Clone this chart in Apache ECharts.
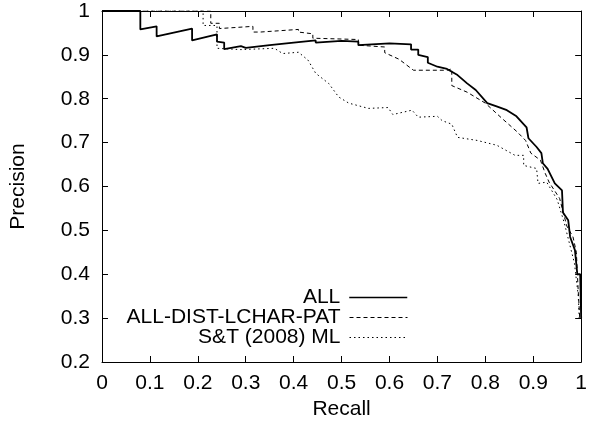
<!DOCTYPE html>
<html>
<head>
<meta charset="utf-8">
<script src="https://cdn.jsdelivr.net/npm/echarts@6/dist/echarts.min.js"></script>
<style>
  html, body { margin: 0; padding: 0; background: #fff; }
  #chart { width: 590px; height: 426px; }
</style>
</head>
<body>
<div id="chart"></div>
<script>
const seriesNames = ["ALL", "ALL-DIST-LCHAR-PAT", "S&T (2008) ML"];

// precision/recall curves
const allRecall = [0, 0.08, 0.08, 0.114, 0.114, 0.188, 0.188, 0.24, 0.24, 0.255, 0.255, 0.29, 0.3, 0.304, 0.35, 0.4, 0.446, 0.446, 0.5, 0.535, 0.535, 0.6, 0.645, 0.645, 0.66, 0.66, 0.68, 0.68, 0.7, 0.72, 0.742, 0.762, 0.78, 0.804, 0.825, 0.845, 0.865, 0.886, 0.89, 0.907, 0.917, 0.92, 0.93, 0.945, 0.96, 0.962, 0.973, 0.977, 0.987, 0.992, 0.998, 1.0];
const allPrecision = [1, 1, 0.958, 0.965, 0.942, 0.96, 0.933, 0.947, 0.93, 0.928, 0.913, 0.92, 0.916, 0.92, 0.922, 0.928, 0.933, 0.928, 0.932, 0.93, 0.922, 0.926, 0.924, 0.912, 0.912, 0.9, 0.895, 0.882, 0.873, 0.868, 0.854, 0.835, 0.82, 0.79, 0.782, 0.774, 0.76, 0.735, 0.71, 0.69, 0.676, 0.653, 0.64, 0.607, 0.591, 0.541, 0.523, 0.485, 0.455, 0.4, 0.4, 0.3];

const distRecall = [0, 0.227, 0.227, 0.245, 0.245, 0.315, 0.315, 0.33, 0.41, 0.41, 0.44, 0.44, 0.535, 0.535, 0.59, 0.59, 0.62, 0.65, 0.72, 0.73, 0.73, 0.762, 0.8, 0.835, 0.866, 0.884, 0.895, 0.915, 0.925, 0.933, 0.955, 0.97, 0.983, 0.99, 0.993, 0.997];
const distPrecision = [1, 1, 0.972, 0.972, 0.96, 0.965, 0.952, 0.952, 0.958, 0.952, 0.948, 0.938, 0.935, 0.922, 0.918, 0.905, 0.89, 0.865, 0.865, 0.868, 0.83, 0.815, 0.79, 0.755, 0.725, 0.705, 0.676, 0.66, 0.63, 0.61, 0.573, 0.51, 0.485, 0.45, 0.38, 0.3];

const stRecall = [0, 0.211, 0.211, 0.24, 0.24, 0.29, 0.36, 0.377, 0.41, 0.43, 0.446, 0.473, 0.494, 0.515, 0.556, 0.597, 0.607, 0.647, 0.66, 0.7, 0.71, 0.73, 0.742, 0.783, 0.824, 0.862, 0.88, 0.88, 0.907, 0.91, 0.928, 0.95, 0.965, 0.986, 0.994, 0.996];
const stPrecision = [1, 1, 0.967, 0.967, 0.915, 0.912, 0.915, 0.903, 0.906, 0.888, 0.858, 0.835, 0.804, 0.79, 0.778, 0.78, 0.764, 0.774, 0.758, 0.76, 0.75, 0.742, 0.712, 0.705, 0.694, 0.671, 0.671, 0.648, 0.641, 0.607, 0.61, 0.57, 0.516, 0.425, 0.35, 0.3];

const xTicks = [0, 0.1, 0.2, 0.3, 0.4, 0.5, 0.6, 0.7, 0.8, 0.9, 1];
const yTicks = [0.2, 0.3, 0.4, 0.5, 0.6, 0.7, 0.8, 0.9, 1];

const zip = (xs, ys) => xs.map((x, i) => [x, ys[i]]);
const font = "Liberation Sans";
const fontSize = 21;
const fmt = (v) => String(+v.toFixed(1));

const lineStyles = [
  { color: "#000", width: 1.8, type: "solid" },
  { color: "#000", width: 1, type: [4, 3] },
  { color: "#000", width: 1, type: [1.5, 3] },
];

const chart = echarts.init(document.getElementById("chart"));

const axisBase = {
  type: "value",
  interval: 0.1,
  splitLine: { show: false },
  axisLine: { show: true, onZero: false, lineStyle: { color: "#000", width: 1 } },
  axisTick: { show: true, inside: true, length: 6, lineStyle: { color: "#000" } },
};
const xBase = { ...axisBase, min: xTicks[0], max: xTicks[xTicks.length - 1] };
const yBase = { ...axisBase, min: yTicks[0], max: yTicks[yTicks.length - 1] };

const legendAt = (i, top) => ({
  data: [seriesNames[i]],
  right: 182,
  top: top,
  align: "right",
  orient: "vertical",
  itemWidth: 58,
  itemHeight: 14,
  padding: 0,
  selectedMode: false,
  itemStyle: { opacity: 0 },
  lineStyle: { ...lineStyles[i], width: i === 0 ? 1.5 : 1 },
  textStyle: { fontFamily: font, fontSize: fontSize, color: "#000", padding: [0, 4, 0, 0] },
});

const option = {
  animation: false,
  backgroundColor: "#fff",
  grid: { left: 101, right: 5, top: 11, bottom: 64 },
  legend: [legendAt(0, 287), legendAt(1, 307), legendAt(2, 327)],
  xAxis: [
    {
      ...xBase,
      name: "Recall",
      nameLocation: "middle",
      nameGap: 37,
      nameTextStyle: { fontFamily: font, fontSize: fontSize, color: "#000" },
      axisLabel: { fontFamily: font, fontSize: fontSize, color: "#000", margin: 11, formatter: fmt },
    },
    { ...xBase, position: "top", axisLabel: { show: false } },
  ],
  yAxis: [
    {
      ...yBase,
      name: "Precision",
      nameLocation: "middle",
      nameGap: 73,
      nameTextStyle: { fontFamily: font, fontSize: fontSize, color: "#000" },
      axisLabel: { fontFamily: font, fontSize: fontSize, color: "#000", margin: 12, formatter: fmt },
    },
    { ...yBase, position: "right", axisLabel: { show: false } },
  ],
  series: seriesNames.map((name, i) => ({
    name: name,
    type: "line",
    data: [zip(allRecall, allPrecision), zip(distRecall, distPrecision), zip(stRecall, stPrecision)][i],
    symbol: "none",
    color: "#000",
    lineStyle: lineStyles[i],
  })),
};

chart.setOption(option);
</script>
</body>
</html>
